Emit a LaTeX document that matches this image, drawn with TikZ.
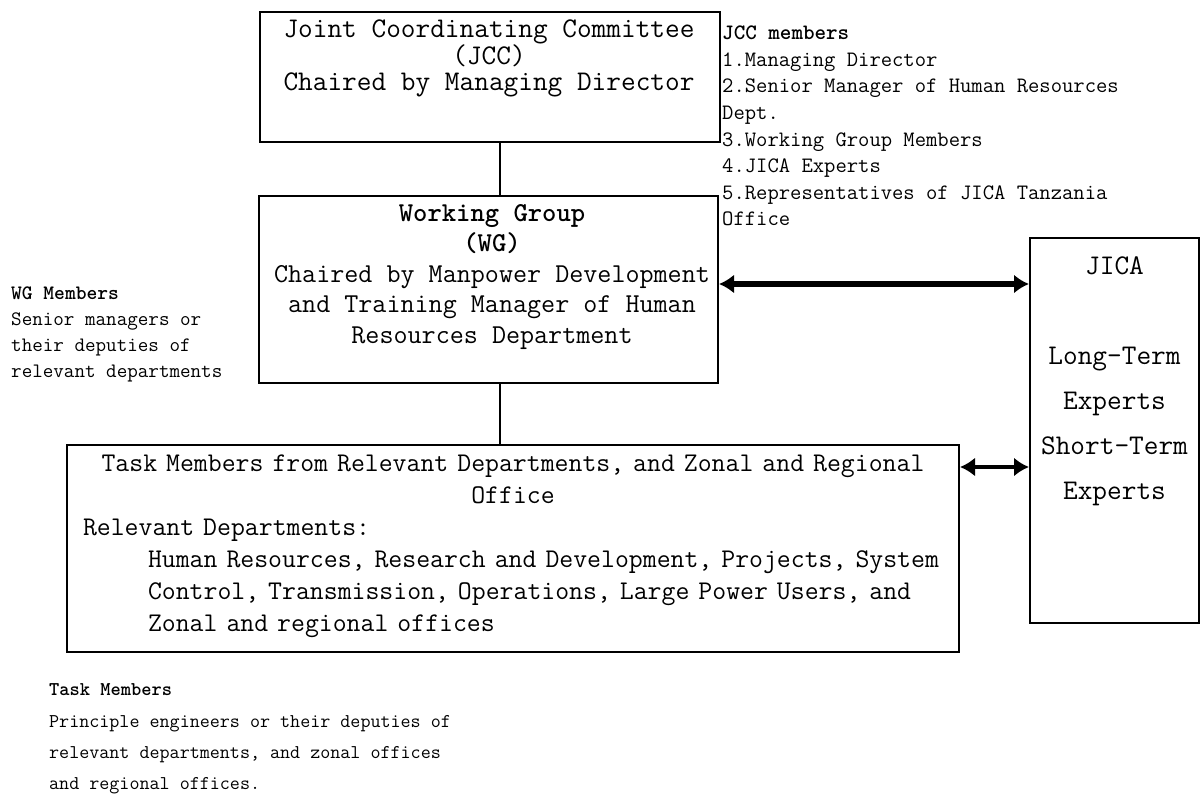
\documentclass[tikz,border=0pt]{standalone}
\usepackage{tikz}
\usetikzlibrary{arrows.meta,calc}

\tikzset{
	box/.style={draw, line width=2pt, rectangle, inner sep=0pt},
	boxtxt/.style={align=center, inner sep=0pt},
	sidetxt/.style={align=left, inner sep=0pt, anchor=west},
	link/.style={line width=1.4pt},
	both/.style={line width=5.5pt, {Latex[length=15pt,width=19pt]}-{Latex[length=15pt,width=19pt]}}
}

\begin{document}
\begin{tikzpicture}[x=1pt, y=-1pt]
\useasboundingbox (0,0) rectangle (1201,797);

%boxes
\node[box, minimum width=460pt, minimum height=130pt] (jcc) at (490,77) {};
\node[box, minimum width=459pt, minimum height=187pt] (wg) at (488.5,289.5) {};
\node[box, minimum width=892pt, minimum height=207pt] (task) at (513,548.5) {};
\node[box, minimum width=169pt, minimum height=385pt] (jica) at (1114.5,430.5) {};

%box texts
\node[boxtxt, font=\fontsize{28.5}{26.5}\selectfont\ttfamily] (jcctxt) at (489,58.5)
	{Joint Coordinating Committee\\(JCC)\\Chaired by Managing Director};
\node[boxtxt, font=\fontsize{27.3}{30.5}\selectfont\ttfamily] (wgtxt) at (492,277)
	{\textbf{Working Group}\\\textbf{(WG)}\\Chaired by Manpower Development\\and Training Manager of Human\\Resources Department};
\node[inner sep=0pt, text width=960pt, font=\fontsize{27}{32}\selectfont\ttfamily] (tasktxt) at (513,546)
	{{\centering Task Members from Relevant Departments, and Zonal and Regional\\Office\par}
	{\leftskip=50pt Relevant Departments:\par}
	{\leftskip=115pt Human Resources, Research and Development, Projects, System\\Control, Transmission, Operations, Large Power Users, and\\Zonal and regional offices\par}};
\node[boxtxt, font=\fontsize{28.5}{45}\selectfont\ttfamily] (jicatxt) at (1114.5,381)
	{JICA\\[45pt]Long-Term\\Experts\\Short-Term\\Experts};

%side notes
\node[sidetxt, font=\fontsize{22}{26.6}\selectfont\ttfamily] (jccnote) at (722,126)
	{\textbf{JCC members}\\1.Managing Director\\2.Senior Manager of Human Resources\\Dept.\\3.Working Group Members\\4.JICA Experts\\5.Representatives of JICA Tanzania\\Office};
\node[sidetxt, font=\fontsize{20.5}{26}\selectfont\ttfamily] (wgnote) at (11,334)
	{\textbf{WG Members}\\Senior managers or\\their deputies of\\relevant departments};
\node[sidetxt, font=\fontsize{19.5}{31.3}\selectfont\ttfamily] (tasknote) at (49,739)
	{\textbf{Task Members}\\Principle engineers or their deputies of\\relevant departments, and zonal offices\\and regional offices.};

%connectors
\draw[link] ([xshift=10pt]jcc.south) -- ([xshift=10pt]jcc.south |- wg.north);
\draw[link] ([xshift=11.5pt]wg.south) -- ([xshift=11.5pt]wg.south |- task.north);
\draw[both] ([yshift=5.5pt]wg.east) -- ([yshift=5.5pt]wg.east -| jica.west);
\draw[both, line width=4.5pt] ([yshift=81.5pt]task.east) -- ([yshift=81.5pt]task.east -| jica.west);

\end{tikzpicture}
\end{document}
